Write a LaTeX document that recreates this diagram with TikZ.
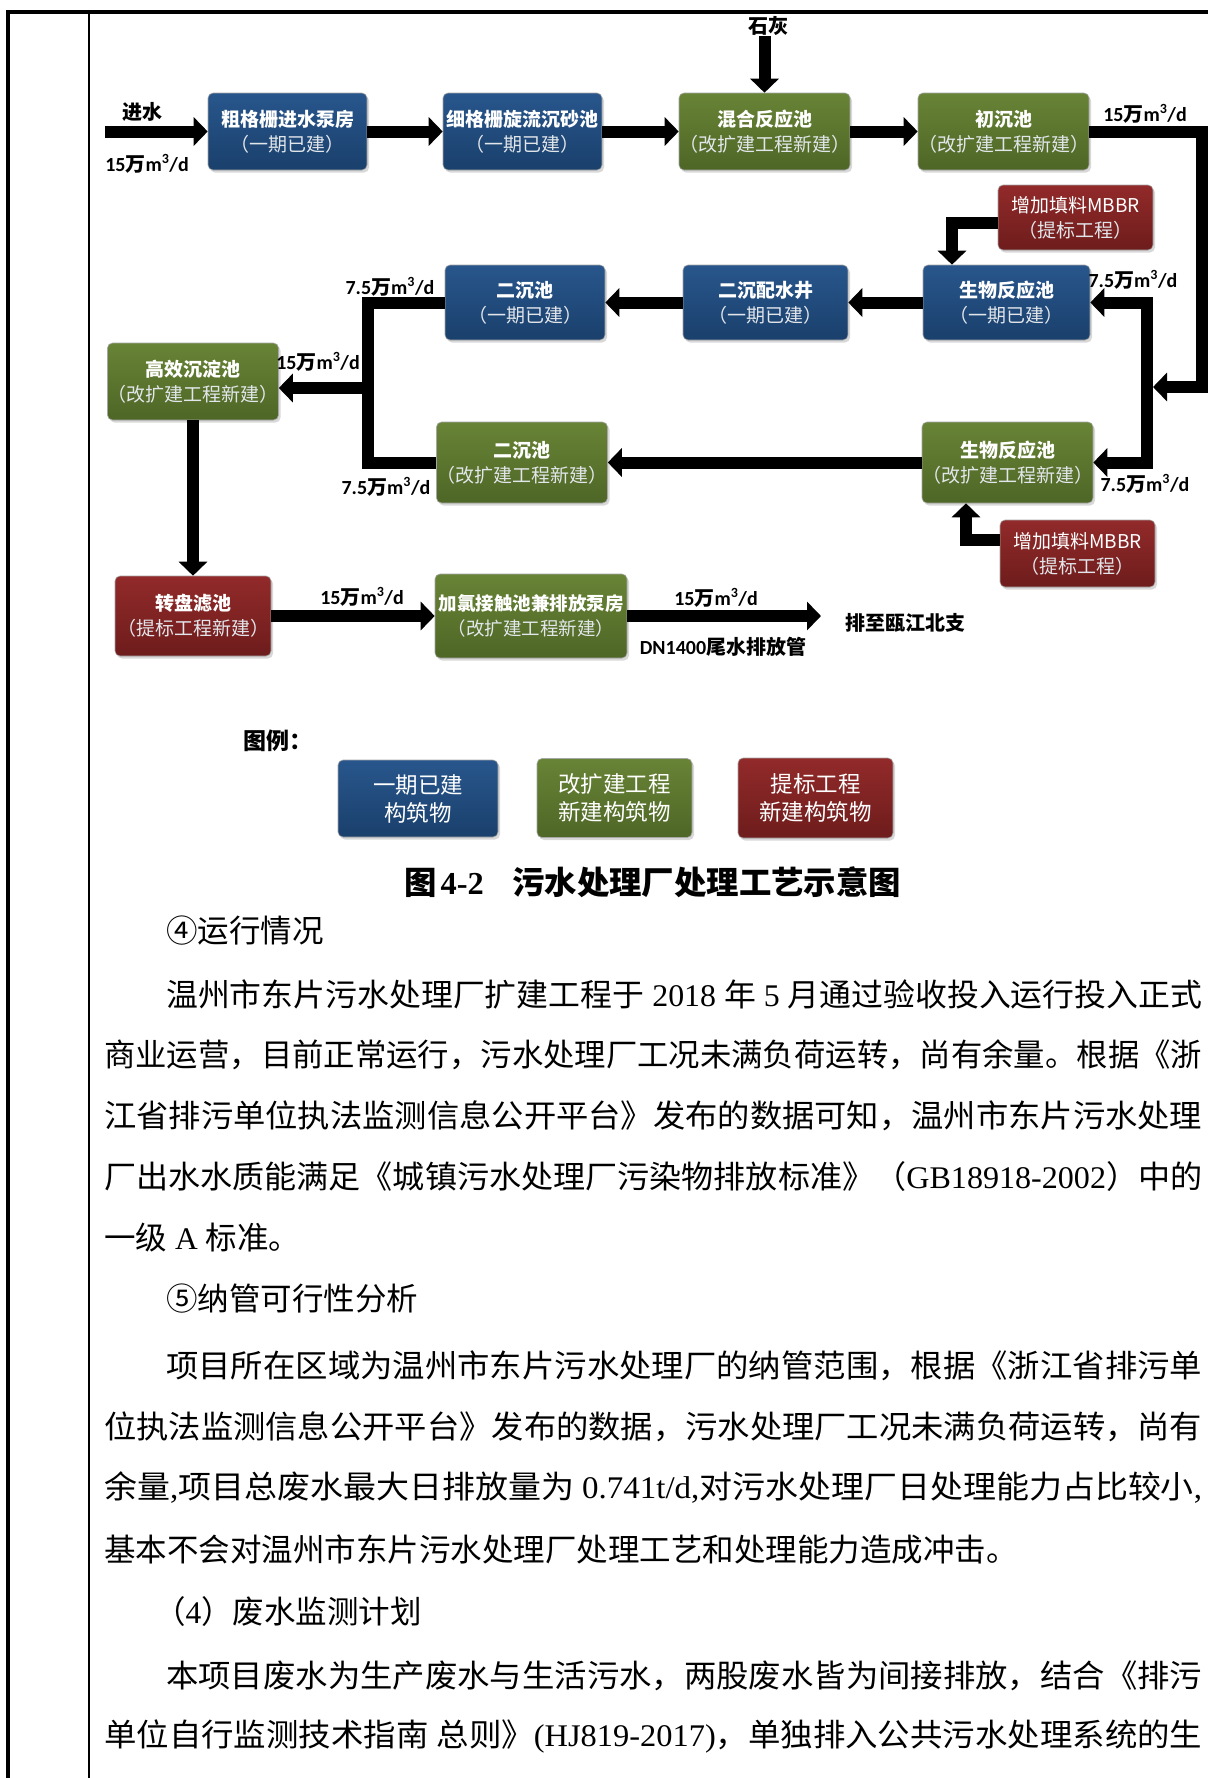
\documentclass[tikz,border=0pt]{standalone}
\usepackage{fontspec}
\usepackage{graphicx}
\setmainfont{Liberation Serif}
\newfontfamily\cjk{Noto Sans CJK SC}
\newfontfamily\carl{Carlito}
\usetikzlibrary{arrows.meta,shadows}
\definecolor{blueT}{RGB}{40,86,140}
\definecolor{blueB}{RGB}{26,64,108}
\definecolor{greenT}{RGB}{104,132,54}
\definecolor{greenB}{RGB}{78,102,38}
\definecolor{redT}{RGB}{146,42,42}
\definecolor{redB}{RGB}{110,28,28}
\definecolor{subc}{RGB}{226,230,234}
\newcommand\wan{{\cjk\bfseries 万}}
\newcommand\flowlab[1]{#1\wan m\textsuperscript{3}/d}
\newcommand\lt[1]{{\rmfamily #1}}
\begin{document}
\begin{tikzpicture}[x=1pt,y=-1pt,
  box/.style={rounded corners=5pt, inner sep=0pt, align=center, text=white,
    draw=black!35, line width=0.6pt,
    font=\cjk\fontsize{19pt}{25pt}\selectfont,
    drop shadow={opacity=0.3, shadow xshift=2pt, shadow yshift=-2.5pt}},
  bluebox/.style={box, top color=blueT, bottom color=blueB},
  greenbox/.style={box, top color=greenT, bottom color=greenB},
  redbox/.style={box, top color=redT, bottom color=redB},
  legbox/.style={font=\cjk\fontsize{22.5pt}{28pt}\selectfont},
  flow/.style={line width=12pt, line join=miter, -{Triangle[length=14pt,width=28pt]}},
  pipe/.style={line width=12pt, line join=miter},
  lab/.style={inner sep=0pt, font=\carl\bfseries\fontsize{20pt}{20pt}\selectfont},
  clab/.style={inner sep=0pt, font=\cjk\bfseries\fontsize{20pt}{20pt}\selectfont},
  body/.style={anchor=west, inner sep=0pt, font=\cjk\fontsize{31.5pt}{31.5pt}\selectfont}
]
\useasboundingbox (0,0) rectangle (1208,1778);
\fill[white] (0,0) rectangle (1208,1778);

% page frame
\draw[line width=3.5pt] (6,12) -- (1208,12);
\draw[line width=3.5pt] (8,12) -- (8,1778);
\draw[line width=1.5pt] (89,12) -- (89,1778);

% process boxes
\node[bluebox, minimum width=159pt, minimum height=77pt] (B1) at (287.5,131.5)
  {{\bfseries 粗格栅进水泵房}\\{\color{subc}（一期已建）}};
\node[bluebox, minimum width=159pt, minimum height=77pt] (B2) at (522.5,131.5)
  {{\bfseries 细格栅旋流沉砂池}\\{\color{subc}（一期已建）}};
\node[greenbox, minimum width=167pt, minimum height=77pt] (B3) at (764.5,131.5)
  {{\bfseries 混合反应池}\\{\color{subc}（改扩建工程新建）}};
\node[greenbox, minimum width=167pt, minimum height=77pt] (B4) at (1003.5,131.5)
  {{\bfseries 初沉池}\\{\color{subc}（改扩建工程新建）}};
\node[redbox, minimum width=155pt, minimum height=65pt] (M1) at (1075.5,217.5)
  {增加填料MBBR\\{\color{subc}（提标工程）}};
\node[bluebox, minimum width=160pt, minimum height=75pt] (S1) at (525,302.5)
  {{\bfseries 二沉池}\\{\color{subc}（一期已建）}};
\node[bluebox, minimum width=165pt, minimum height=75pt] (P) at (765.5,302.5)
  {{\bfseries 二沉配水井}\\{\color{subc}（一期已建）}};
\node[bluebox, minimum width=167pt, minimum height=75pt] (R1) at (1006.5,302.5)
  {{\bfseries 生物反应池}\\{\color{subc}（一期已建）}};
\node[greenbox, minimum width=158pt, minimum height=77pt] (H) at (193,381.5)
  {{\bfseries 高效沉淀池}\\{\color{subc}（改扩建工程新建）}};
\node[greenbox, minimum width=162pt, minimum height=81pt] (S2) at (522,462.5)
  {{\bfseries 二沉池}\\{\color{subc}（改扩建工程新建）}};
\node[greenbox, minimum width=171pt, minimum height=81pt] (R2) at (1007.5,462.5)
  {{\bfseries 生物反应池}\\{\color{subc}（改扩建工程新建）}};
\node[redbox, minimum width=155pt, minimum height=67pt] (M2) at (1077.5,553.5)
  {增加填料MBBR\\{\color{subc}（提标工程）}};
\node[redbox, minimum width=156pt, minimum height=80pt] (Z) at (193,616)
  {{\bfseries 转盘滤池}\\{\color{subc}（提标工程新建）}};
\node[greenbox, minimum width=192pt, minimum height=84pt,
  font=\cjk\fontsize{18.5pt}{25pt}\selectfont] (J) at (531,616)
  {{\bfseries 加氯接触池兼排放泵房}\\{\color{subc}（改扩建工程新建）}};

% text labels
\node[clab] (inlab) at (142,112) {进水};
\node[clab] (lime) at (768,26) {石灰};
\node[lab] (q1) at (147,164) {\flowlab{15}};
\node[lab] (q2) at (1145,114) {\flowlab{15}};
\node[lab] (q3) at (390,287) {\flowlab{7.5}};
\node[lab] (q4) at (1133,280) {\flowlab{7.5}};
\node[lab] (q5) at (318,362) {\flowlab{15}};
\node[lab] (q6) at (386,487) {\flowlab{7.5}};
\node[lab] (q7) at (1145,484) {\flowlab{7.5}};
\node[lab] (q8) at (362,597) {\flowlab{15}};
\node[lab] (q9) at (716,598) {\flowlab{15}};
\node[clab] (dest) at (905,623) {排至瓯江北支};
\node[lab] (pipe) at (723,647) {DN1400{\cjk 尾水排放管}};

% connectors
\coordinate (in) at (105,131.5);
\draw[flow] (in) -- (B1);
\draw[flow] (B1) -- (B2);
\draw[flow] (B2) -- (B3);
\draw[flow] (B3) -- (B4);
\draw[flow] (B3.north |- lime.south) -- (B3.north);
\coordinate (c1) at (1202,131.5);
\coordinate (c2) at (1202,387);
\coordinate (c3) at (1153,387);
\coordinate (v1) at (1147,387);
\draw[flow] (B4.east) -- (c1) -- (c2) -- (c3);
\draw[flow] (v1) |- (R1.east);
\draw[flow] (v1) |- (R2.east);
\draw[flow] ([yshift=-5.5pt]M1.west) -| ([xshift=-54.5pt]R1.north);
\draw[flow] ([yshift=13.5pt]M2.west) -| ([xshift=-41.5pt]R2.south);
\draw[flow] (R1) -- (P);
\draw[flow] (P) -- (S1);
\draw[flow] (R2) -- (S2);
\coordinate (jx) at (368,388);
\draw[pipe] (S1.west) -| (jx);
\draw[pipe] (S2.west) -| (jx);
\draw[flow] (jx) -- (H.east |- jx);
\draw[flow] (H) -- (Z);
\draw[flow] (Z) -- (J);
\coordinate (out) at (821,616);
\draw[flow] (J) -- (out);

% legend
\node[clab, font=\cjk\bfseries\fontsize{23pt}{23pt}\selectfont] (leg) at (278,741) {图例：};
\node[bluebox, legbox, minimum width=160pt, minimum height=77pt] (L1) at (418,798.5) {一期已建\\构筑物};
\node[greenbox, legbox, minimum width=155pt, minimum height=79pt] (L2) at (614.5,798) {改扩建工程\\新建构筑物};
\node[redbox, legbox, minimum width=155pt, minimum height=80pt] (L3) at (815.5,798) {提标工程\\新建构筑物};

% caption
\node[anchor=west, inner sep=0pt, font=\cjk\bfseries\fontsize{32pt}{32pt}\selectfont] (cap) at (404,882)
  {\resizebox{497pt}{\height}{图\hspace{4pt}{\rmfamily\bfseries 4-2}\hspace{28pt}污水处理厂处理工艺示意图}};

% body text
\node[body] (t0) at (166,931) {④运行情况};
\node[body] (t1) at (166,994) {\resizebox{1036pt}{\height}{温州市东片污水处理厂扩建工程于\lt{ 2018 }年\lt{ 5 }月通过验收投入运行投入正式}};
\node[body] (t2) at (104,1055) {\resizebox{1098pt}{\height}{商业运营，目前正常运行，污水处理厂工况未满负荷运转，尚有余量。根据《浙}};
\node[body] (t3) at (104,1116) {\resizebox{1098pt}{\height}{江省排污单位执法监测信息公开平台》发布的数据可知，温州市东片污水处理}};
\node[body] (t4) at (104,1177) {\resizebox{1098pt}{\height}{厂出水水质能满足《城镇污水处理厂污染物排放标准》（\lt{GB18918-2002}）中的}};
\node[body] (t5) at (104,1238) {一级\lt{ A }标准。};
\node[body] (t6) at (166,1299) {⑤纳管可行性分析};
\node[body] (t7) at (166,1366) {\resizebox{1036pt}{\height}{项目所在区域为温州市东片污水处理厂的纳管范围，根据《浙江省排污单}};
\node[body] (t8) at (104,1427) {\resizebox{1098pt}{\height}{位执法监测信息公开平台》发布的数据，污水处理厂工况未满负荷运转，尚有}};
\node[body] (t9) at (104,1488) {\resizebox{1098pt}{\height}{余量\lt{,}项目总废水最大日排放量为\lt{ 0.741t/d,}对污水处理厂日处理能力占比较小\lt{,}}};
\node[body] (t10) at (104,1549) {基本不会对温州市东片污水处理厂处理工艺和处理能力造成冲击。};
\node[body] (t11) at (154,1612) {（\lt{4}）废水监测计划};
\node[body] (t12) at (166,1676) {\resizebox{1036pt}{\height}{本项目废水为生产废水与生活污水，两股废水皆为间接排放，结合《排污}};
\node[body] (t13) at (104,1736) {\resizebox{1098pt}{\height}{单位自行监测技术指南\lt{ }总则》\lt{(HJ819-2017)}，单独排入公共污水处理系统的生}};
\end{tikzpicture}
\end{document}
